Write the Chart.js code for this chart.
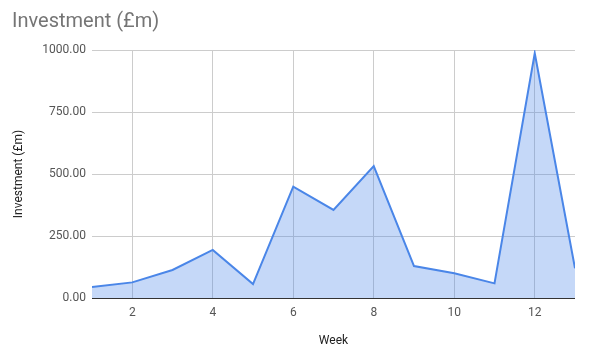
<!DOCTYPE html>
<html lang="en">
<head>
    <meta charset="UTF-8">
    <title>Investment (£m)</title>
    <script src="https://cdn.jsdelivr.net/npm/chart.js"></script>
    <style>
        body {
            margin: 0;
            background: #fff;
        }
        .chart-box {
            width: 589px;
            height: 354px;
        }
    </style>
</head>
<body>
    <div class="chart-box">
        <canvas id="chart"></canvas>
    </div>

    <script>
        const weeks = [1, 2, 3, 4, 5, 6, 7, 8, 9, 10, 11, 12, 13];
        const investment = [44, 63, 113, 194, 56, 449, 355, 532, 129, 100, 59, 987, 120];
        const yTicks = [0, 250, 500, 750, 1000];
        const xTicks = [2, 4, 6, 8, 10, 12];

        const points = weeks.map((w, i) => ({ x: w, y: investment[i] }));

        const ctx = document.getElementById('chart').getContext('2d');
        new Chart(ctx, {
            type: 'line',
            data: {
                datasets: [{
                    label: 'Investment (£m)',
                    data: points,
                    borderColor: '#4a86e8',
                    backgroundColor: 'rgba(74, 134, 232, 0.32)',
                    borderWidth: 2,
                    fill: 'origin',
                    tension: 0,
                    pointRadius: 0
                }]
            },
            options: {
                responsive: true,
                maintainAspectRatio: false,
                animation: false,
                layout: {
                    padding: { left: 12, right: 14, top: 0, bottom: 0 }
                },
                plugins: {
                    legend: { display: false },
                    tooltip: { enabled: false },
                    title: {
                        display: true,
                        text: 'Investment (£m)',
                        align: 'start',
                        color: '#757575',
                        font: { family: 'Roboto', size: 20, weight: 'normal' },
                        padding: { top: 10, bottom: 16 }
                    }
                },
                scales: {
                    x: {
                        type: 'linear',
                        min: 1,
                        max: 13,
                        afterBuildTicks: scale => {
                            scale.ticks = xTicks.map(v => ({ value: v }));
                        },
                        afterFit: scale => { scale.height = 56; },
                        border: { display: false },
                        grid: { color: '#cccccc', drawTicks: false },
                        ticks: {
                            color: '#555555',
                            padding: 8,
                            font: { family: 'Roboto', size: 12 }
                        },
                        title: {
                            display: true,
                            text: 'Week',
                            color: '#222222',
                            font: { family: 'Roboto', size: 12 },
                            padding: { top: 4, bottom: 6 }
                        }
                    },
                    y: {
                        min: 0,
                        max: 1000,
                        afterBuildTicks: scale => {
                            scale.ticks = yTicks.map(v => ({ value: v }));
                        },
                        afterFit: scale => { scale.width = 80; },
                        border: { display: false },
                        grid: {
                            drawTicks: false,
                            color: c => c.tick && c.tick.value === 0 ? '#333333' : '#cccccc'
                        },
                        ticks: {
                            color: '#555555',
                            padding: 6,
                            font: { family: 'Roboto', size: 12 },
                            callback: v => v.toFixed(2)
                        },
                        title: {
                            display: true,
                            text: 'Investment (£m)',
                            color: '#222222',
                            font: { family: 'Roboto', size: 12 },
                            padding: { top: 0, bottom: 4 }
                        }
                    }
                }
            }
        });
    </script>
</body>
</html>
